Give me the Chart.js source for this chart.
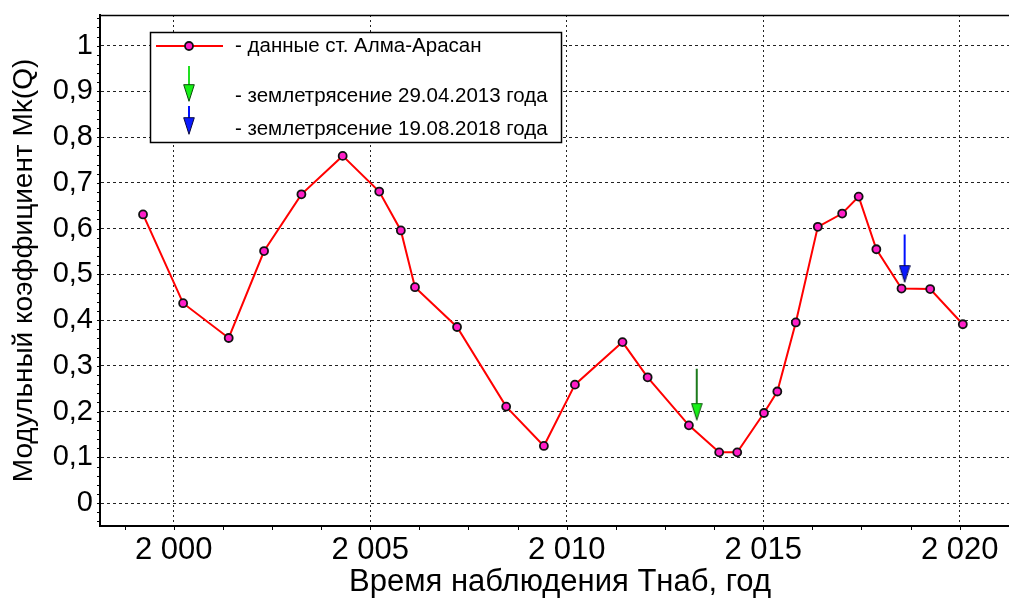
<!DOCTYPE html>
<html>
<head>
<meta charset="utf-8">
<script src="https://cdn.jsdelivr.net/npm/chart.js@4"></script>
<style>
    html, body { margin: 0; padding: 0; background: #fff; overflow: hidden; }
    #wrap { width: 1030px; height: 601px; }
</style>
</head>
<body>
<div id="wrap"><canvas id="mk-chart" width="1030" height="601"></canvas></div>
<script>
// observation years and module coefficient Mk(Q), Alma-Arasan station
const years = [1999.22, 2000.24, 2001.40, 2002.30, 2003.25, 2004.30, 2005.23, 2005.78, 2006.14, 2007.21,
    2008.46, 2009.42, 2010.21, 2011.42, 2012.06, 2013.11, 2013.88, 2014.34, 2015.02, 2015.36,
    2015.83, 2016.39, 2017.01, 2017.43, 2017.88, 2018.52, 2019.25, 2020.08];
const mkValues = [0.631, 0.437, 0.361, 0.551, 0.675, 0.759, 0.681, 0.596, 0.472, 0.385,
    0.211, 0.125, 0.259, 0.352, 0.275, 0.170, 0.111, 0.111, 0.197, 0.244,
    0.395, 0.604, 0.633, 0.670, 0.555, 0.469, 0.468, 0.391];

// earthquake markers (arrows)
const quakeDates = [2013.31, 2018.60];
const arrowTops = [0.294, 0.587];
const arrowHeads = [0.200, 0.501];

const xTicks = [2000, 2005, 2010, 2015, 2020];
const yTicks = [0, 0.1, 0.2, 0.3, 0.4, 0.5, 0.6, 0.7, 0.8, 0.9, 1];

const legendLabels = ['- данные ст. Алма-Арасан', '- землетрясение 29.04.2013 года', '- землетрясение 19.08.2018 года'];

const FONT = "'Liberation Sans', Arial, sans-serif";
const MARKER = '#ff1ec8';

function makeHead(fill, stroke) {
    const c = document.createElement('canvas');
    c.width = 12;
    c.height = 18;
    const g = c.getContext('2d');
    g.beginPath();
    g.moveTo(0.7, 0.7);
    g.lineTo(11.3, 0.7);
    g.lineTo(6, 17.3);
    g.closePath();
    g.fillStyle = fill;
    g.fill();
    g.lineWidth = 1;
    g.strokeStyle = stroke;
    g.stroke();
    return c;
}

const greenHead = makeHead('#16f016', '#0c4a0c');
const blueHead = makeHead('#0a1aff', '#0a0a40');

const frame = {
    id: 'frame',
    afterDraw(chart) {
        const { ctx, chartArea: a, scales: { x, y } } = chart;
        ctx.save();
        ctx.strokeStyle = '#000';
        // top border
        ctx.lineWidth = 1.5;
        ctx.beginPath();
        ctx.moveTo(a.left, a.top + 0.5);
        ctx.lineTo(a.right, a.top + 0.5);
        ctx.stroke();
        // small ticks
        ctx.lineWidth = 1;
        ctx.beginPath();
        for (let v = -0.04; v < 1.07; v += 0.02) {
            const py = Math.round(y.getPixelForValue(v)) + 0.5;
            ctx.moveTo(a.left - 3, py);
            ctx.lineTo(a.left, py);
        }
        for (let v = 1998.75; v < 2021.5; v += 1.25) {
            const px = Math.round(x.getPixelForValue(v)) + 0.5;
            ctx.moveTo(px, a.bottom);
            ctx.lineTo(px, a.bottom + 4);
        }
        ctx.stroke();

        // legend box
        const L = 150, T = 32, W = 411, H = 110;
        ctx.fillStyle = '#fff';
        ctx.fillRect(L, T, W, H);
        ctx.lineWidth = 1.5;
        ctx.strokeRect(L + 0.5, T + 0.5, W, H);

        ctx.strokeStyle = '#ff0000';
        ctx.lineWidth = 2;
        ctx.beginPath();
        ctx.moveTo(156, 46);
        ctx.lineTo(223, 46);
        ctx.stroke();
        ctx.beginPath();
        ctx.arc(189, 46, 4, 0, Math.PI * 2);
        ctx.fillStyle = MARKER;
        ctx.fill();
        ctx.lineWidth = 1.8;
        ctx.strokeStyle = '#111';
        ctx.stroke();

        ctx.lineWidth = 2;
        ctx.strokeStyle = '#22e022';
        ctx.beginPath();
        ctx.moveTo(189, 66);
        ctx.lineTo(189, 88);
        ctx.stroke();
        ctx.drawImage(greenHead, 183, 84);
        ctx.strokeStyle = '#0010ff';
        ctx.beginPath();
        ctx.moveTo(189, 106);
        ctx.lineTo(189, 120);
        ctx.stroke();
        ctx.drawImage(blueHead, 183, 117);

        ctx.fillStyle = '#000';
        ctx.font = '20.5px ' + FONT;
        ctx.textBaseline = 'middle';
        ctx.textAlign = 'left';
        ctx.fillText(legendLabels[0], 235, 46);
        ctx.fillText(legendLabels[1], 235, 96);
        ctx.fillText(legendLabels[2], 235, 129);
        ctx.restore();
    }
};

function yearLabel(v) {
    const s = String(v);
    return s.slice(0, 1) + ' ' + s.slice(1);
}

const ctx = document.getElementById('mk-chart').getContext('2d');
new Chart(ctx, {
    type: 'scatter',
    data: {
        datasets: [
            {
                data: quakeDates.slice(0, 1).flatMap((d, i) => [{ x: d, y: arrowTops[i] }, { x: d, y: arrowHeads[i] }]),
                showLine: true,
                borderColor: '#1c7a1c',
                borderWidth: 2,
                pointRadius: [0, 1],
                pointStyle: greenHead,
                order: 0
            },
            {
                data: quakeDates.slice(1).flatMap((d, i) => [{ x: d, y: arrowTops[i + 1] }, { x: d, y: arrowHeads[i + 1] }]),
                showLine: true,
                borderColor: '#0010ff',
                borderWidth: 2,
                pointRadius: [0, 1],
                pointStyle: blueHead,
                order: 0
            },
            {
                data: years.map((t, i) => ({ x: t, y: mkValues[i] })),
                showLine: true,
                borderColor: '#ff0000',
                borderWidth: 2,
                pointRadius: 4,
                pointBorderWidth: 1.8,
                pointBorderColor: '#111',
                pointBackgroundColor: MARKER,
                order: 1
            }
        ]
    },
    options: {
        responsive: false,
        animation: false,
        layout: { padding: { top: 15, right: 10, left: 0, bottom: 0 } },
        plugins: { legend: { display: false }, tooltip: { enabled: false } },
        scales: {
            x: {
                type: 'linear',
                min: 1998.125,
                max: 2021.535,
                afterFit: s => { s.height = 75; s.paddingLeft = 0; s.paddingRight = 0; },
                afterBuildTicks: s => { s.ticks = xTicks.map(v => ({ value: v })); },
                ticks: {
                    color: '#000',
                    padding: 6,
                    maxRotation: 0,
                    font: { family: FONT, size: 31 },
                    callback: v => yearLabel(v)
                },
                grid: { color: '#222', lineWidth: 1, drawTicks: false },
                border: { display: true, color: '#000', width: 2, dash: [2, 3] },
                title: {
                    display: true,
                    text: 'Время наблюдения Тнаб, год',
                    color: '#000',
                    padding: 0,
                    font: { family: FONT, size: 31 }
                }
            },
            y: {
                type: 'linear',
                min: -0.05,
                max: 1.067,
                afterFit: s => { s.width = 100; s.paddingTop = 0; s.paddingBottom = 0; },
                afterBuildTicks: s => { s.ticks = yTicks.map(v => ({ value: v })); },
                ticks: {
                    color: '#000',
                    padding: 7,
                    font: { family: FONT, size: 29 },
                    callback: v => String(Math.round(v * 10) / 10).replace('.', ',')
                },
                grid: { color: '#222', lineWidth: 1, drawTicks: false },
                border: { display: true, color: '#000', width: 2, dash: [3, 3] },
                title: {
                    display: true,
                    text: 'Модульный коэффициент Mk(Q)',
                    color: '#000',
                    padding: { top: 7, bottom: 0 },
                    font: { family: FONT, size: 28 }
                }
            }
        }
    },
    plugins: [frame]
});
</script>
</body>
</html>
